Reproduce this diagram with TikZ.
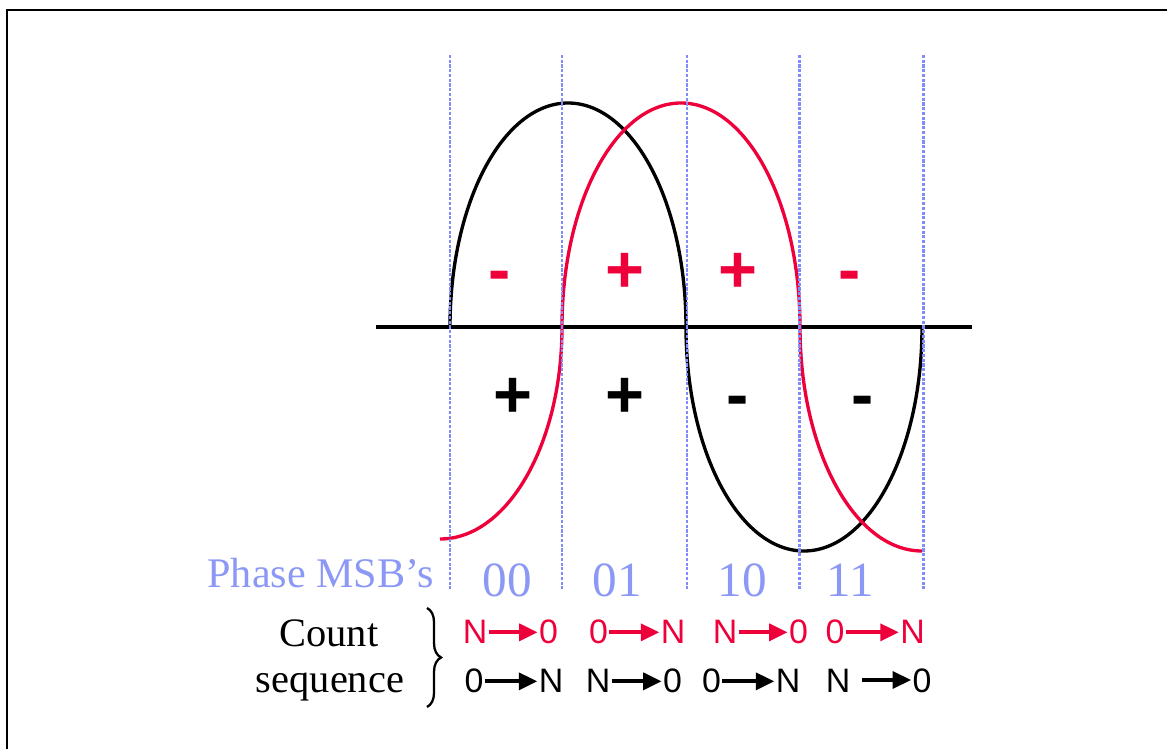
\documentclass[tikz,border=0pt]{standalone}
\usepackage{fontspec}
\setmainfont{Liberation Serif}
\newfontfamily\arialfont{Liberation Sans}
\usetikzlibrary{arrows.meta,decorations.pathreplacing}
\definecolor{myred}{RGB}{238,0,58}
\definecolor{myblue}{RGB}{140,152,245}
\definecolor{dotblue}{RGB}{128,140,252}
\tikzset{
  curve/.style={line width=1.9pt},
  gridline/.style={dotblue, line width=1.7pt, dash pattern=on 1.8pt off 0.9pt},
  signtxt/.style={font=\arialfont\bfseries\fontsize{38}{38}\selectfont, anchor=base, inner sep=0pt},
  serif/.style={font=\fontsize{23}{23}\selectfont, anchor=base, inner sep=0pt},
  digit/.style={font=\fontsize{28}{28}\selectfont, anchor=base, inner sep=0pt, text=myblue},
  cnt/.style={font=\arialfont\fontsize{19.3}{19.3}\selectfont, anchor=base, inner sep=0.6pt},
  seqarrow/.style={line width=2.3pt, -{Triangle[length=10.5pt,width=9.5pt]}},
}
\begin{document}
\begin{tikzpicture}[x=0.02cm,y=-0.02cm]
\useasboundingbox (0,0) rectangle (1167,749);
% frame
\draw[line width=1.5pt] (7,749) -- (7,10) -- (1167,10);
% axis
\coordinate (axL) at (376,327);
\coordinate (axR) at (972,327);
\draw[line width=1.8pt] (axL) -- (axR);
% curves (elliptic arcs)
\coordinate (bs) at (450,327);
\draw[curve, black] (bs) arc[start angle=180, end angle=360, x radius=118, y radius=224]
  arc[start angle=180, end angle=0, x radius=118, y radius=224];
\coordinate (rs) at (440,539);
\draw[curve, myred] (rs) arc[start angle=90, end angle=0, x radius=122, y radius=212]
  arc[start angle=180, end angle=360, x radius=119, y radius=224]
  arc[start angle=180, end angle=90, x radius=122, y radius=224];
% dotted grid lines
\foreach \gx [count=\i] in {450,562,687,799,923} {
  \coordinate (gt\i) at (\gx,55);
  \coordinate (gb\i) at (\gx,590);
  \draw[gridline] (gt\i) -- (gb\i);
}
% signs
\node[signtxt, text=myred] (r1) at (500,293) {-};
\node[signtxt, text=myred] (r2) at (625,293) {+};
\node[signtxt, text=myred] (r3) at (738,293) {+};
\node[signtxt, text=myred] (r4) at (850,293) {-};
\node[signtxt] (b1) at (513,418) {+};
\node[signtxt] (b2) at (625,418) {+};
\node[signtxt] (b3) at (738,418) {-};
\node[signtxt] (b4) at (863,418) {-};
% labels
\node[font=\fontsize{24}{24}\selectfont, anchor=base east, inner sep=0pt, text=myblue] (phase) at (434,588) {Phase MSB’s};
\node[digit] (d1) at (507,597) {00};
\node[digit] (d2) at (617,597) {01};
\node[digit] (d3) at (742,597) {10};
\node[digit] (d4) at (850,597) {11};
\node[serif] (count) at (329,647) {Count};
\node[serif] (seq) at (330,693) {sequence};
% brace
\coordinate (bt) at (427,608);
\coordinate (bb) at (427,707);
\draw[line width=1.3pt, decorate, decoration={brace, amplitude=8pt}] (bt) -- (bb);
% red count row
\begin{scope}[myred]
\node[cnt, text=myred] (ra1) at (475,644) {N};
\node[cnt, text=myred] (rb1) at (548.5,644) {0};
\node[cnt, text=myred] (ra2) at (598.5,644) {0};
\node[cnt, text=myred] (rb2) at (673,644) {N};
\node[cnt, text=myred] (ra3) at (725,644) {N};
\node[cnt, text=myred] (rb3) at (798.5,644) {0};
\node[cnt, text=myred] (ra4) at (835,644) {0};
\node[cnt, text=myred] (rb4) at (912.5,644) {N};
\foreach \k in {1,...,4} {
  \draw[seqarrow] (ra\k.east) -- (ra\k.east -| rb\k.west);
}
\end{scope}
% black count row
\node[cnt] (ka1) at (474,693) {0};
\node[cnt] (kb1) at (551,693) {N};
\node[cnt] (ka2) at (598,693) {N};
\node[cnt] (kb2) at (672.5,693) {0};
\node[cnt] (ka3) at (711.5,693) {0};
\node[cnt] (kb3) at (788,693) {N};
\node[cnt] (ka4) at (838,693) {N};
\node[cnt] (kb4) at (922,693) {0};
\foreach \k in {1,...,3} {
  \draw[seqarrow] (ka\k.east) -- (ka\k.east -| kb\k.west);
}
\coordinate (k4s) at (862,680);
\draw[seqarrow] (k4s) -- (k4s -| kb4.west);
\end{tikzpicture}
\end{document}
